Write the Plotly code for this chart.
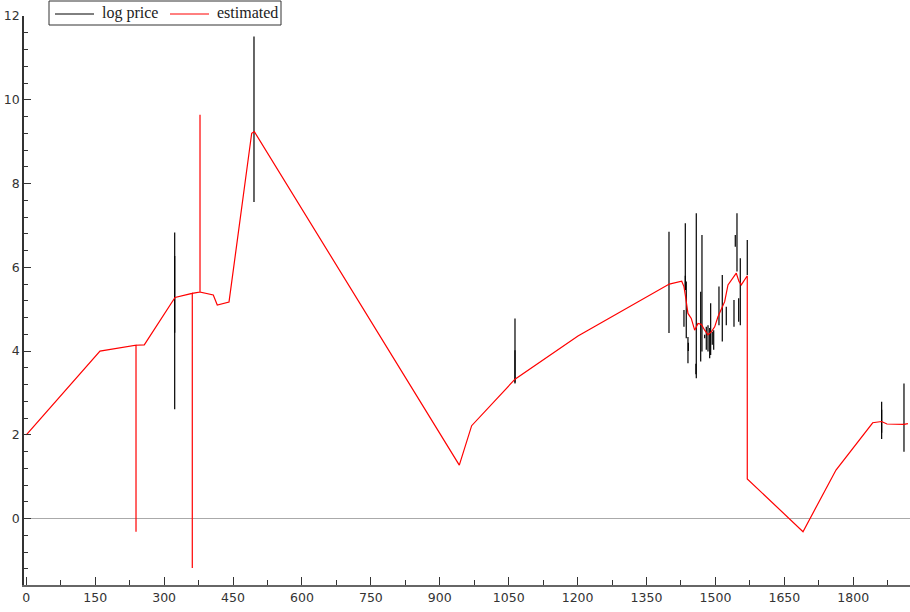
import plotly.graph_objects as go

# ---- data ----
# log price: vertical ranges (x, high, low)
price_x = [323.0, 323.0, 495.6, 1063.7, 1063.7,
           1398.9, 1431.5, 1434.4, 1434.4, 1436.5, 1440.2, 1441.0, 1458.3, 1457.5, 1467.9, 1470.7,
           1476.6, 1480.1, 1483.8, 1487.5, 1489.6, 1493.1, 1496.2, 1507.7, 1514.9,
           1523.6, 1540.4, 1543.2, 1546.9, 1550.6, 1554.1, 1569.3,
           1861.8, 1861.8, 1910.4]
price_hi = [6.83, 6.27, 11.51, 4.78, 4.02,
            6.85, 4.98, 7.05, 5.80, 5.66, 4.34, 4.20, 7.29, 3.70, 5.42, 6.77,
            4.39, 4.58, 4.62, 4.55, 5.14, 4.46, 4.50, 5.54, 5.82,
            5.06, 5.22, 6.77, 7.29, 5.26, 6.22, 6.65,
            2.79, 2.60, 3.23]
price_lo = [2.61, 4.44, 7.56, 3.23, 3.25,
            4.43, 4.58, 5.46, 5.46, 4.31, 3.71, 4.00, 3.35, 3.45, 3.75, 3.99,
            4.31, 4.03, 3.99, 3.83, 3.91, 4.15, 4.03, 4.62, 4.23,
            4.62, 4.58, 6.49, 5.90, 4.70, 4.62, 5.82,
            1.90, 2.05, 1.60]

# estimated series
est_x = [0.0, 160.4, 238.8, 238.8, 238.8, 238.8, 256.8, 323.7, 361.3, 361.3, 361.3, 361.3,
         378.1, 378.1, 378.1, 378.1, 407.0, 415.7, 441.2, 490.6, 496.3, 942.5, 969.4,
         1063.7, 1200.8, 1399.6, 1426.6, 1431.5, 1434.4, 1440.2, 1447.4, 1454.8, 1462.0,
         1469.2, 1476.6, 1483.8, 1491.0, 1498.4, 1505.5, 1512.7, 1520.1, 1527.3, 1534.5,
         1545.4, 1551.3, 1556.3, 1569.3, 1569.3, 1690.6, 1762.4, 1842.3, 1861.8, 1873.3,
         1910.4, 1919.0]
est_y = [2.00, 4.00, 4.14, 1.93, -0.31, 4.14, 4.15, 5.28, 5.38, 2.12, -1.18, 5.38,
         5.41, 7.51, 9.64, 5.41, 5.34, 5.10, 5.17, 9.20, 9.24, 1.28, 2.22,
         3.33, 4.36, 5.60, 5.67, 5.54, 5.34, 4.90, 4.78, 4.50, 4.66,
         4.64, 4.50, 4.39, 4.46, 4.58, 4.82, 5.02, 5.18, 5.58, 5.70,
         5.86, 5.66, 5.58, 5.80, 0.95, -0.31, 1.16, 2.29, 2.32, 2.26,
         2.25, 2.27]

x_ticks = [0, 150, 300, 450, 600, 750, 900, 1050, 1200, 1350, 1500, 1650, 1800]
y_ticks = [0, 2, 4, 6, 8, 10, 12]
series_names = ["log price", "estimated"]
series_colors = ["#000000", "#ff0000"]

# build segment coordinates for the vertical price ranges
seg_x, seg_y = [], []
for xv, hi, lo in zip(price_x, price_hi, price_lo):
    seg_x += [xv, xv, None]
    seg_y += [hi, lo, None]

fig = go.Figure()
fig.add_trace(go.Scatter(x=seg_x, y=seg_y, mode="lines", name=series_names[0],
                         line=dict(color=series_colors[0], width=1.2), connectgaps=False))
fig.add_trace(go.Scatter(x=est_x, y=est_y, mode="lines", name=series_names[1],
                         line=dict(color=series_colors[1], width=1.2)))

# plot area in pixels: x 24..910, y 16..585
L, R, T, B = 24, 910, 16, 585
def px(xp):
    return (xp - L) / (R - L)
def py(yp):
    return (B - yp) / (B - T)

# legend box drawn in the top-left corner
shapes = [
    dict(type="rect", xref="paper", yref="paper", x0=px(49), x1=px(281), y0=py(25), y1=py(1),
         line=dict(color="#333333", width=1), fillcolor="white", layer="above"),
    dict(type="line", xref="paper", yref="paper", x0=px(55), x1=px(94), y0=py(14), y1=py(14),
         line=dict(color=series_colors[0], width=1), layer="above"),
    dict(type="line", xref="paper", yref="paper", x0=px(170), x1=px(209), y0=py(14), y1=py(14),
         line=dict(color=series_colors[1], width=1), layer="above"),
]
legend_font = dict(family="Liberation Serif", size=16, color="#222222")
annotations = [
    dict(text=series_names[0], xref="paper", yref="paper", x=px(100), y=py(13),
         xanchor="left", yanchor="middle", showarrow=False, font=legend_font),
    dict(text=series_names[1], xref="paper", yref="paper", x=px(215), y=py(13),
         xanchor="left", yanchor="middle", showarrow=False, font=legend_font),
]

tickfont = dict(family="DejaVu Sans", size=12.5, color="#333333")
fig.update_layout(
    width=910, height=612,
    margin=dict(l=L, r=910 - R, t=T, b=612 - B, autoexpand=False),
    paper_bgcolor="white", plot_bgcolor="white",
    showlegend=False,
    shapes=shapes, annotations=annotations,
    xaxis=dict(range=[-5.0, 1923.5], tickmode="array", tickvals=x_ticks,
               ticktext=[str(v) for v in x_ticks], automargin=False,
               showgrid=False, zeroline=False, showline=True, linecolor="#666666",
               linewidth=2, ticks="inside", ticklen=8, tickwidth=1, tickcolor="#333333",
               tickfont=tickfont,
               minor=dict(tickmode="linear", tick0=0, dtick=75, ticks="inside", ticklen=5,
                          tickcolor="#333333", showgrid=False)),
    yaxis=dict(range=[-1.583, 12.0], tickmode="array", tickvals=y_ticks,
               ticktext=[str(v) for v in y_ticks], automargin=False,
               showgrid=False, zeroline=True, zerolinecolor="#aaaaaa", zerolinewidth=1,
               showline=True, linecolor="#333333", linewidth=1.5,
               ticks="inside", ticklen=7, tickwidth=1, tickcolor="#333333",
               tickfont=tickfont,
               minor=dict(tickmode="linear", tick0=0, dtick=0.4, ticks="inside", ticklen=4,
                          tickcolor="#333333", showgrid=False)),
)

fig.write_html("out.html", config={"displayModeBar": False},
               post_script="document.body.style.margin='0';")
